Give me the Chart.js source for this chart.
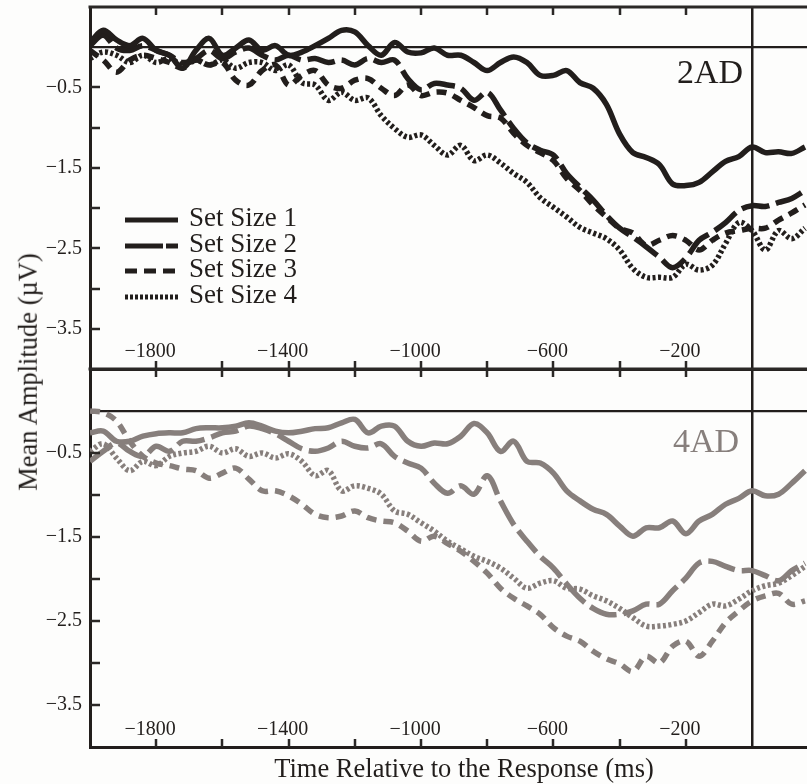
<!DOCTYPE html>
<html>
<head>
<meta charset="utf-8">
<script src="https://cdn.jsdelivr.net/npm/chart.js@4.4.1/dist/chart.umd.min.js"></script>
<style>
  body { margin: 0; background: #fff; }
  #wrap { position: relative; width: 807px; height: 784px; overflow: hidden; background: #fdfdfc;
          font-family: 'Liberation Serif', 'Times New Roman', serif; color: #221e1c; }
  canvas { position: absolute; left: 0; }
  #topChart { top: 0; }
  #bottomChart { top: 340px; }
  .txt { position: absolute; white-space: nowrap; line-height: 1; }
  .legendRow { position: absolute; left: 125px; height: 26px; }
  .legendRow svg { position: absolute; left: 0; top: 0; }
  .legendRow span { position: absolute; left: 64px; top: -3px; font-size: 27px; line-height: 1; white-space: nowrap; }
</style>
</head>
<body>
<div id="wrap">
  <canvas id="topChart" width="807" height="400"></canvas>
  <canvas id="bottomChart" width="807" height="444"></canvas>
  <div class="txt" style="right:64px; top:55px; font-size:34px; color:#221e1c;">2AD</div>
  <div class="txt" style="right:68px; top:424px; font-size:34px; color:#877f7c;">4AD</div>
  <div class="txt" style="left:464px; top:755px; font-size:26.5px; transform:translateX(-50%);">Time Relative to the Response (ms)</div>
  <div class="txt" style="left:28px; top:372px; font-size:26.5px; transform:translate(-50%,-50%) rotate(-90deg);">Mean Amplitude (µV)</div>
  <div id="legend"></div>
</div>
<script>
// time axis (ms relative to response), one sample every 40 ms
const timeMs = [-2000, -1960, -1920, -1880, -1840, -1800, -1760, -1720, -1680, -1640,
  -1600, -1560, -1520, -1480, -1440, -1400, -1360, -1320, -1280, -1240,
  -1200, -1160, -1120, -1080, -1040, -1000, -960, -920, -880, -840,
  -800, -760, -720, -680, -640, -600, -560, -520, -480, -440,
  -400, -360, -320, -280, -240, -200, -160, -120, -80, -40,
  0, 40, 80, 120, 160];

// 2AD panel (black)
const twoAdSet1 = [0.06, 0.21, 0.09, 0.02, 0.11, -0.04, -0.10, -0.26, -0.04, 0.11,
  -0.10, -0.01, 0.09, -0.04, 0.02, -0.10, -0.06, 0.02, 0.11, 0.21,
  0.19, 0.02, -0.10, 0.06, -0.06, -0.07, -0.01, -0.10, -0.10, -0.19,
  -0.29, -0.19, -0.12, -0.19, -0.35, -0.35, -0.29, -0.44, -0.51, -0.71,
  -1.08, -1.31, -1.37, -1.46, -1.70, -1.72, -1.68, -1.55, -1.42, -1.36,
  -1.24, -1.31, -1.30, -1.32, -1.24];
const twoAdSet2 = [0.02, 0.15, -0.01, -0.04, 0.02, -0.04, -0.10, -0.19, -0.14, -0.04,
  -0.14, -0.06, -0.01, -0.10, -0.16, -0.10, -0.16, -0.14, -0.19, -0.16,
  -0.22, -0.14, -0.19, -0.16, -0.39, -0.53, -0.45, -0.47, -0.51, -0.66,
  -0.56, -0.78, -1.01, -1.19, -1.28, -1.34, -1.57, -1.74, -1.90, -2.09,
  -2.25, -2.36, -2.48, -2.61, -2.74, -2.62, -2.40, -2.30, -2.18, -2.03,
  -1.97, -1.98, -1.93, -1.88, -1.78];
const twoAdSet3 = [-0.04, -0.16, -0.31, -0.16, -0.10, -0.14, -0.19, -0.26, -0.16, -0.22,
  -0.19, -0.41, -0.47, -0.29, -0.22, -0.47, -0.35, -0.29, -0.47, -0.51,
  -0.41, -0.39, -0.51, -0.60, -0.47, -0.60, -0.56, -0.57, -0.66, -0.75,
  -0.85, -0.88, -1.07, -1.22, -1.31, -1.41, -1.63, -1.78, -1.96, -2.11,
  -2.25, -2.31, -2.46, -2.40, -2.34, -2.40, -2.52, -2.40, -2.31, -2.28,
  -2.25, -2.25, -2.15, -2.06, -1.96];
const twoAdSet4 = [-0.14, -0.06, -0.10, -0.19, -0.10, -0.19, -0.14, -0.22, -0.16, -0.22,
  -0.16, -0.26, -0.19, -0.19, -0.29, -0.22, -0.44, -0.47, -0.66, -0.56,
  -0.66, -0.63, -0.85, -1.01, -1.12, -1.09, -1.22, -1.34, -1.22, -1.41,
  -1.34, -1.44, -1.57, -1.68, -1.87, -1.99, -2.11, -2.24, -2.31, -2.38,
  -2.52, -2.75, -2.86, -2.86, -2.86, -2.70, -2.77, -2.71, -2.44, -2.18,
  -2.28, -2.52, -2.28, -2.38, -2.25];

// 4AD panel (grey)
const fourAdSet1 = [-0.26, -0.24, -0.36, -0.36, -0.30, -0.27, -0.26, -0.26, -0.21, -0.20,
  -0.20, -0.18, -0.14, -0.18, -0.24, -0.26, -0.24, -0.21, -0.20, -0.14,
  -0.10, -0.26, -0.18, -0.18, -0.36, -0.42, -0.38, -0.39, -0.30, -0.15,
  -0.26, -0.48, -0.36, -0.60, -0.62, -0.74, -0.95, -1.07, -1.17, -1.23,
  -1.37, -1.49, -1.39, -1.39, -1.31, -1.46, -1.31, -1.23, -1.11, -1.04,
  -0.95, -1.01, -0.99, -0.86, -0.71];
const fourAdSet2 = [-0.60, -0.48, -0.38, -0.48, -0.54, -0.42, -0.48, -0.36, -0.36, -0.32,
  -0.26, -0.24, -0.18, -0.21, -0.27, -0.36, -0.45, -0.48, -0.44, -0.36,
  -0.42, -0.44, -0.39, -0.54, -0.62, -0.68, -0.86, -0.98, -0.89, -0.99,
  -0.77, -1.07, -1.35, -1.55, -1.73, -1.87, -2.06, -2.23, -2.35, -2.42,
  -2.42, -2.38, -2.30, -2.30, -2.14, -1.99, -1.81, -1.79, -1.85, -1.90,
  -1.90, -1.96, -2.02, -1.90, -1.81];
const fourAdSet3 = [0.00, -0.02, -0.12, -0.36, -0.54, -0.62, -0.65, -0.69, -0.71, -0.80,
  -0.74, -0.68, -0.81, -0.95, -0.95, -1.01, -1.11, -1.23, -1.27, -1.25,
  -1.19, -1.27, -1.31, -1.33, -1.43, -1.55, -1.49, -1.58, -1.67, -1.79,
  -1.93, -2.11, -2.23, -2.32, -2.42, -2.58, -2.68, -2.74, -2.86, -2.95,
  -3.01, -3.10, -2.92, -3.00, -2.80, -2.74, -2.92, -2.74, -2.52, -2.38,
  -2.26, -2.20, -2.17, -2.30, -2.26];
const fourAdSet4 = [-0.48, -0.39, -0.56, -0.71, -0.60, -0.65, -0.54, -0.50, -0.48, -0.42,
  -0.50, -0.45, -0.54, -0.50, -0.56, -0.51, -0.60, -0.77, -0.71, -0.95,
  -0.89, -0.92, -0.99, -1.19, -1.23, -1.33, -1.43, -1.55, -1.64, -1.73,
  -1.79, -1.87, -1.99, -2.11, -2.05, -2.02, -2.11, -2.12, -2.20, -2.26,
  -2.35, -2.46, -2.56, -2.56, -2.54, -2.50, -2.40, -2.30, -2.32, -2.24,
  -2.14, -2.08, -2.05, -1.96, -1.85];

const setLabels = ['Set Size 1', 'Set Size 2', 'Set Size 3', 'Set Size 4'];
const xTickValues = [-1800, -1600, -1400, -1200, -1000, -800, -600, -400, -200, 0];
const xLabelValues = [-1800, -1400, -1000, -600, -200];
const yTickValues = [0, -0.5, -1, -1.5, -2, -2.5, -3, -3.5];
const yLabelValues = [-0.5, -1.5, -2.5, -3.5];

const ink = '#221e1c';
const grey = '#877f7c';
const serif = "'Liberation Serif', 'Times New Roman', serif";
const dashPatterns = [[], [28, 7], [10, 7], [3, 2.5]];
const legendDash = ['', '38 3', '12 7', '3 2'];

const minus = v => (v < 0 ? '\u2212' : '') + Math.abs(v);

// inward tick marks along the frame, plus the top edge of each panel
const frameTicks = {
    id: 'frameTicks',
    afterDatasetsDraw(chart) {
        const { ctx, chartArea: a, scales: { x, y } } = chart;
        ctx.save();
        ctx.strokeStyle = '#2b2826';
        ctx.lineWidth = 3;
        ctx.beginPath();
        ctx.moveTo(a.left - 1.5, a.top);
        ctx.lineTo(a.right, a.top);
        ctx.stroke();
        ctx.lineWidth = 2.5;
        xTickValues.forEach(v => {
            if (v === 0) return;
            const px = Math.round(x.getPixelForValue(v));
            ctx.beginPath();
            ctx.moveTo(px, a.top);
            ctx.lineTo(px, a.top + 8);
            ctx.moveTo(px, a.bottom);
            ctx.lineTo(px, a.bottom - 8);
            ctx.stroke();
        });
        yTickValues.forEach(v => {
            if (v === 0) return;
            const py = Math.round(y.getPixelForValue(v));
            ctx.beginPath();
            ctx.moveTo(a.left, py);
            ctx.lineTo(a.left + 10, py);
            ctx.stroke();
        });
        ctx.restore();
    }
};

function makePanel(canvasId, seriesList, color, padTop, padBottom) {
    const datasets = seriesList.map((vals, i) => ({
        label: setLabels[i],
        data: timeMs.map((t, k) => ({ x: t, y: vals[k] })),
        borderColor: color,
        borderWidth: 5.5,
        borderDash: dashPatterns[i],
        borderCapStyle: 'butt',
        borderJoinStyle: 'round',
        pointRadius: 0,
        tension: 0.35,
        fill: false
    }));

    return new Chart(document.getElementById(canvasId), {
        type: 'line',
        data: { datasets },
        options: {
            responsive: false,
            animation: false,
            layout: { padding: { top: padTop, bottom: padBottom, left: 0, right: 0 } },
            plugins: { legend: { display: false }, tooltip: { enabled: false } },
            scales: {
                x: {
                    type: 'linear',
                    min: -2000,
                    max: 166,
                    afterBuildTicks: s => { s.ticks = xTickValues.map(v => ({ value: v })); },
                    afterFit: s => { s.height = 2; s.paddingLeft = 0; s.paddingRight = 0; },
                    ticks: {
                        autoSkip: false,
                        maxRotation: 0,
                        minRotation: 0,
                        mirror: true,   // labels sit inside the plot, above the bottom edge
                        padding: 5,
                        labelOffset: -6,
                        color: ink,
                        font: { family: serif, size: 20 },
                        callback: v => xLabelValues.includes(v) ? minus(v) : ''
                    },
                    grid: {
                        drawTicks: false,
                        color: c => (c.tick && c.tick.value === 0) ? ink : 'rgba(0,0,0,0)',
                        lineWidth: c => (c.tick && c.tick.value === 0) ? 2.5 : 0
                    },
                    border: { display: true, color: ink, width: 3 }
                },
                y: {
                    min: -4,
                    max: 0.5,
                    afterBuildTicks: s => { s.ticks = yTickValues.map(v => ({ value: v })); },
                    afterFit: s => { s.width = 90; s.paddingTop = 0; s.paddingBottom = 0; },
                    ticks: {
                        padding: 8,
                        color: ink,
                        font: { family: serif, size: 20 },
                        callback: v => yLabelValues.includes(v) ? minus(v.toFixed(1)) : ''
                    },
                    grid: {
                        drawTicks: false,
                        color: c => (c.tick && c.tick.value === 0) ? ink : 'rgba(0,0,0,0)',
                        lineWidth: c => (c.tick && c.tick.value === 0) ? 2.2 : 0
                    },
                    border: { display: true, color: ink, width: 3 }
                }
            }
        },
        plugins: [frameTicks]
    });
}

// legend of the 2AD panel
const legendBox = document.getElementById('legend');
setLabels.forEach((label, i) => {
    const row = document.createElement('div');
    row.className = 'legendRow';
    row.style.top = (207 + i * 25.5) + 'px';
    const dash = legendDash[i] ? ` stroke-dasharray="${legendDash[i]}"` : '';
    row.innerHTML = `<svg width="56" height="26"><line x1="0" y1="13" x2="53" y2="13" stroke="${ink}" stroke-width="5"${dash}/></svg><span>${label}</span>`;
    legendBox.appendChild(row);
});

makePanel('topChart', [twoAdSet1, twoAdSet2, twoAdSet3, twoAdSet4], ink, 7, 29);
makePanel('bottomChart', [fourAdSet1, fourAdSet2, fourAdSet3, fourAdSet4], grey, 29, 35);
</script>
</body>
</html>
